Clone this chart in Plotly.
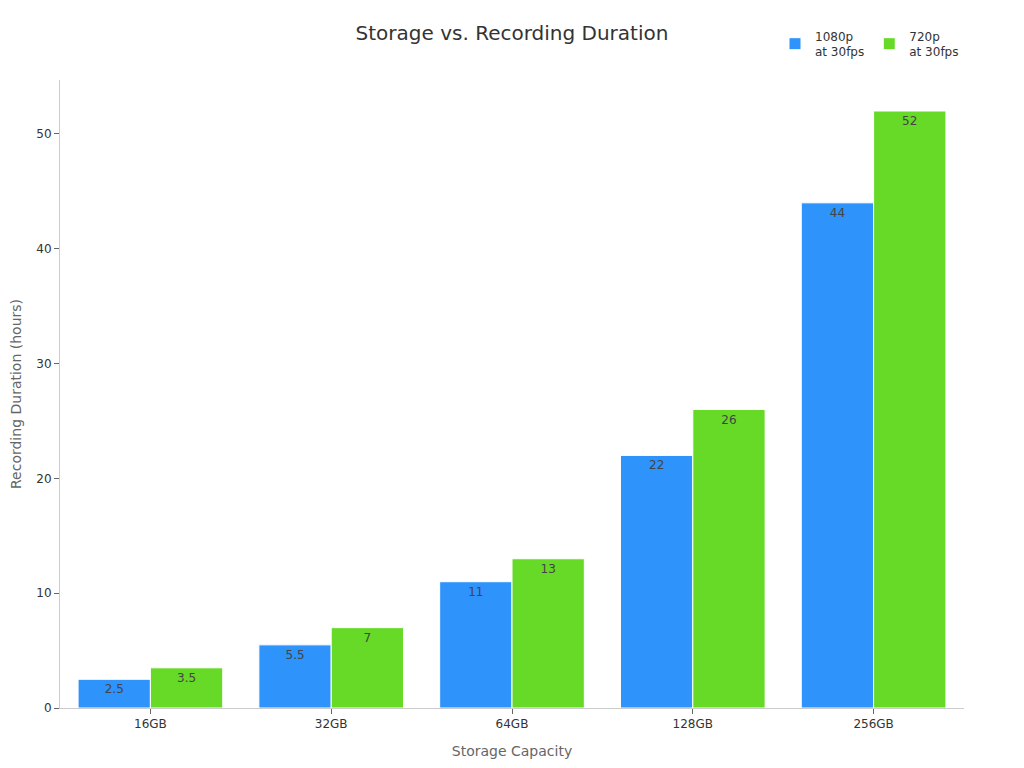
import plotly.graph_objects as go

capacities = ['16GB', '32GB', '64GB', '128GB', '256GB']
hours_1080p = [2.5, 5.5, 11, 22, 44]
hours_720p = [3.5, 7, 13, 26, 52]

fig = go.Figure()

fig.add_trace(go.Bar(
    x=capacities, y=hours_1080p,
    name='1080p<br>at 30fps',
    marker=dict(color='#2E93FA', line=dict(color='white', width=1)),
    text=hours_1080p, textposition='inside', insidetextanchor='end',
    textfont=dict(color='#444', size=12)
))

fig.add_trace(go.Bar(
    x=capacities, y=hours_720p,
    name='720p<br>at 30fps',
    marker=dict(color='#66DA26', line=dict(color='white', width=1)),
    text=hours_720p, textposition='inside', insidetextanchor='end',
    textfont=dict(color='#444', size=12)
))

# the page adds an 8px body margin, so offsets below are shifted by 8px
fig.update_layout(
    title=dict(text='Storage vs. Recording Duration', x=504 / 1024, y=1 - 25 / 768,
               xanchor='center', yanchor='middle', font=dict(size=20, color='#333')),
    font=dict(family='DejaVu Sans', size=12, color='#333'),
    width=1024, height=768,
    plot_bgcolor='white', paper_bgcolor='white',
    margin=dict(l=52, r=68, t=72, b=68),
    bargap=0.2, bargroupgap=0,
    legend=dict(orientation='h', xref='container', x=767 / 1024, xanchor='left',
                yref='container', y=0.953, yanchor='middle',
                font=dict(size=12, color='#333')),
    showlegend=True
)

fig.update_xaxes(
    title=dict(text='Storage Capacity', font=dict(size=14, color='#666'), standoff=15),
    showline=True, linecolor='#ccc', ticks='outside', tickcolor='#666', ticklen=5,
    showgrid=False, automargin=False
)
fig.update_yaxes(
    title=dict(text='Recording Duration (hours)', font=dict(size=14, color='#666'), standoff=19),
    showline=True, linecolor='#ccc', ticks='outside', tickcolor='#666', ticklen=5,
    showgrid=False, zeroline=False, range=[0, 54.7], dtick=10, automargin=False
)

fig.write_html("out.html")
